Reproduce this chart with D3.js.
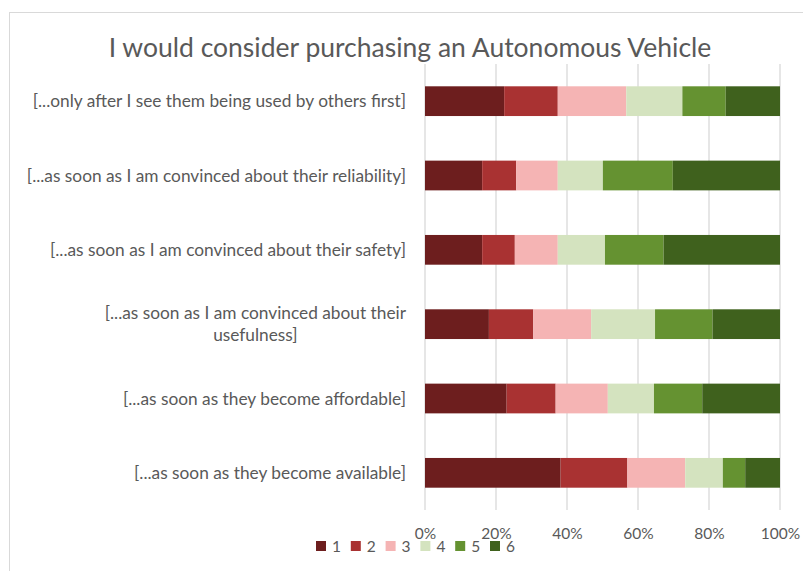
<!DOCTYPE html>
<html>
<head>
<meta charset="utf-8">
<script src="https://cdn.jsdelivr.net/npm/d3@7"></script>
<style>
  body { margin: 0; background: #fff; }
  text { font-family: Lato, "Open Sans", sans-serif; fill: #595959; }
</style>
</head>
<body>
<svg id="chart" width="803" height="571"></svg>
<script>
// questions, top to bottom
var questions = [
  "[...only after I see them being used by others first]",
  "[...as soon as I am convinced about their reliability]",
  "[...as soon as I am convinced about their safety]",
  "[...as soon as I am convinced about their usefulness]",
  "[...as soon as they become affordable]",
  "[...as soon as they become available]"
];
// share of answers (percent) for scores 1..6
var score1 = [22.3, 16.1, 16.1, 18.0, 23.0, 38.2];
var score2 = [15.1,  9.6,  9.2, 12.5, 13.8, 18.8];
var score3 = [19.3, 11.7, 12.1, 16.3, 14.7, 16.3];
var score4 = [15.8, 12.7, 13.3, 18.0, 13.0, 10.6];
var score5 = [12.2, 19.7, 16.5, 16.2, 13.6,  6.3];
var score6 = [15.3, 30.2, 32.8, 19.0, 21.9,  9.8];
var scoreKeys = ["1", "2", "3", "4", "5", "6"];
var tickValues = [0, 0.2, 0.4, 0.6, 0.8, 1];
var colors = ["#6d1e1e", "#a93232", "#f5b4b4", "#d4e3bf", "#659231", "#3f611d"];

var rows = questions.map(function(q, i){
    return {q: q, "1": score1[i], "2": score2[i], "3": score3[i],
            "4": score4[i], "5": score5[i], "6": score6[i]};
});

var svg = d3.select("#chart");
var M = {left: 425, right: 780, top: 64, bottom: 510};

// chart frame
svg.append("rect")
    .attr("x", 9.5).attr("y", 12.5)
    .attr("width", 820).attr("height", 600)
    .attr("fill", "none").attr("stroke", "#d9d9d9");

var x = d3.scaleLinear().domain([0, 1]).range([M.left, M.right]);
var y = d3.scaleBand().domain(questions).range([M.top, M.bottom]).paddingInner(0.6).paddingOuter(0.3);
var color = d3.scaleOrdinal().domain(scoreKeys).range(colors);

// gridlines
svg.append("g").selectAll("line")
    .data(tickValues)
    .enter().append("line")
    .attr("x1", function(d){ return x(d); })
    .attr("x2", function(d){ return x(d); })
    .attr("y1", M.top).attr("y2", M.bottom)
    .attr("stroke", "#d9d9d9").attr("stroke-width", 1.3);

// stacked bars
var series = d3.stack().keys(scoreKeys).offset(d3.stackOffsetExpand)(rows);
svg.append("g").selectAll("g")
    .data(series)
    .enter().append("g")
    .attr("fill", function(d){ return color(d.key); })
    .selectAll("rect")
    .data(function(d){ return d; })
    .enter().append("rect")
    .attr("x", function(d){ return x(d[0]); })
    .attr("width", function(d){ return x(d[1]) - x(d[0]); })
    .attr("y", function(d){ return y(d.data.q); })
    .attr("height", y.bandwidth());

// x axis tick labels
var xAxis = d3.axisBottom(x).tickValues(tickValues).tickFormat(d3.format(".0%")).tickSize(0).tickPadding(0);
var gx = svg.append("g").attr("transform", "translate(0,539)").call(xAxis);
gx.select(".domain").remove();
gx.selectAll("text").attr("font-size", 15.5).attr("dy", 0).style("fill", "#595959")
    .style("font-family", "Lato, 'Open Sans', sans-serif");

// category labels, wrapped ones centred on each other
var labelRight = 406;
var wraps = {"[...as soon as I am convinced about their usefulness]": ["[...as soon as I am convinced about their", "usefulness]"]};
questions.forEach(function(q){
    var lines = wraps[q] || [q];
    var cy = y(q) + y.bandwidth()/2;
    var g = svg.append("g");
    var texts = lines.map(function(l, i){
        return g.append("text")
            .attr("font-size", 17.3)
            .attr("y", cy + (i - (lines.length - 1)/2) * 22)
            .attr("dy", "0.35em")
            .text(l);
    });
    var w = d3.max(texts, function(t){ return t.node().getComputedTextLength(); });
    texts.forEach(function(t){
        t.attr("text-anchor", "middle").attr("x", labelRight - w/2);
    });
});

// title
svg.append("text")
    .attr("x", 410).attr("y", 57)
    .attr("text-anchor", "middle")
    .attr("font-size", 26.5)
    .text("I would consider purchasing an Autonomous Vehicle");

// legend
var legend = svg.append("g").selectAll("g")
    .data(scoreKeys)
    .enter().append("g")
    .attr("transform", function(d, i){ return "translate(" + (316 + i*34.8) + ",541)"; });
legend.append("rect").attr("width", 10).attr("height", 10)
    .attr("fill", function(d){ return color(d); });
legend.append("text").attr("x", 16).attr("y", 10.5).attr("font-size", 15.5)
    .text(function(d){ return d; });
</script>
</body>
</html>
